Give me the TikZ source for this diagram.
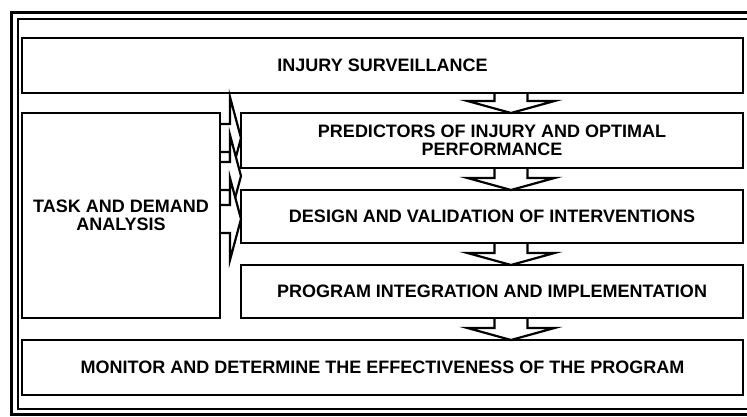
\documentclass[tikz,border=0pt]{standalone}
\usepackage{fontspec}
\setmainfont{Liberation Sans}
\usetikzlibrary{positioning,
                calc,
                backgrounds}
\tikzset{block/.style=
   {rectangle,
    draw,
    line width=2pt,
    outer sep=0pt,
    inner sep=0pt,
    text centered,
    align=center,
    font=\fontsize{18}{17.5}\selectfont\bfseries}}
\tikzset{bigarrow/.style = {draw, fill=white, line width=2.2pt, line join=miter}}

% fat arrow pointing down, from block #1 to block #2 along the spine
\newcommand{\fatdown}[2]{%
  \path [bigarrow] let \p1 = (#1.south -| spine), \p2 = (#2.north -| spine) in
  (\x1-16.5pt,\y1) -- (\x1-16.5pt,\y2+12pt) -- (\x1-43.5pt,\y2+12pt)
  -- (\x2,\y2)
  -- (\x1+43.5pt,\y2+12pt) -- (\x1+16.5pt,\y2+12pt) -- (\x1+16.5pt,\y1);}

% fat arrow pointing right, from the task block at the height of #1
\newcommand{\fatright}[1]{%
  \path [bigarrow] let \p1 = (task.east |- #1), \p2 = (predictors.west |- #1) in
  (\x1,\y1+14pt) -- (\x2-11pt,\y1+14pt) -- (\x2-11pt,\y1+41pt)
  -- (\x2,\y1)
  -- (\x2-11pt,\y1-41pt) -- (\x2-11pt,\y1-14pt) -- (\x1,\y1-14pt);}

\begin{document}
\begin{tikzpicture}[x=1pt, y=-1pt]

    \useasboundingbox (0,0) rectangle (747,416);

    % Frame
    \begin{scope}
    \clip (0,0) rectangle (747,416);
    \draw [line width=3pt] (11,12) rectangle (770,414);
    \draw [line width=2pt] (18,19) rectangle (770,409);
    \end{scope}

    % Blocks
    \node [block, minimum width=721pt, minimum height=55pt] (surveil) at (382.5,65.5) {INJURY SURVEILLANCE};
    \node [block, minimum width=502pt, minimum height=55pt, below=20pt of surveil.south east, anchor=north east] (predictors) {PREDICTORS OF INJURY AND OPTIMAL\\PERFORMANCE};
    \node [block, minimum width=502pt, minimum height=53pt, below=22pt of predictors] (design) {DESIGN AND VALIDATION OF INTERVENTIONS};
    \node [block, minimum width=502pt, minimum height=53pt, below=22pt of design] (program) {PROGRAM INTEGRATION AND IMPLEMENTATION};
    \node [block, minimum width=198pt, minimum height=205pt, below=20pt of surveil.south west, anchor=north west] (task) {TASK AND DEMAND\\ANALYSIS};
    \node [block, minimum width=721pt, minimum height=55pt, below=22pt of program.south east, anchor=north east] (monitor) {MONITOR AND DETERMINE THE EFFECTIVENESS OF THE PROGRAM};

    \coordinate (spine) at (511,0);
    \coordinate (in1) at (0,138);
    \coordinate (in2) at (0,176);
    \coordinate (in3) at (0,219);

    % Draw edges
    \begin{scope}[on background layer]
    % down the right column
    \fatdown{surveil}{predictors}
    \fatdown{predictors}{design}
    \fatdown{design}{program}
    \fatdown{program}{monitor}
    % out of the task block
    \fatright{in1}
    \fatright{in2}
    \fatright{in3}
    \end{scope}

\end{tikzpicture}
\end{document}
